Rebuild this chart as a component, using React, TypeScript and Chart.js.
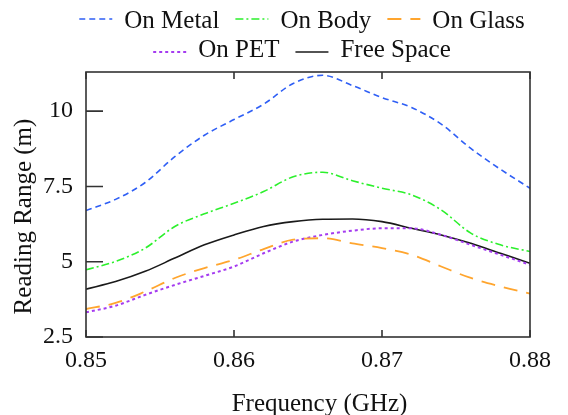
import { useEffect, useRef } from "react";
import { Chart, registerables } from "chart.js";

Chart.register(...registerables);

const FREQ = [0.85, 0.852, 0.854, 0.856, 0.858, 0.86, 0.862, 0.864, 0.866, 0.868, 0.87, 0.872, 0.874, 0.876, 0.878, 0.88];
const ON_METAL = [6.7, 7.07, 7.63, 8.49, 9.2, 9.72, 10.23, 10.92, 11.19, 10.85, 10.45, 10.12, 9.57, 8.76, 8.07, 7.44];
const ON_BODY = [4.73, 5.01, 5.45, 6.17, 6.59, 6.94, 7.33, 7.82, 7.97, 7.69, 7.44, 7.22, 6.72, 5.95, 5.56, 5.34];
const ON_GLASS = [3.43, 3.63, 4.01, 4.46, 4.79, 5.06, 5.42, 5.73, 5.78, 5.61, 5.45, 5.23, 4.84, 4.46, 4.18, 3.94];
const ON_PET = [3.32, 3.54, 3.9, 4.23, 4.53, 4.84, 5.28, 5.67, 5.89, 6.03, 6.11, 6.11, 5.89, 5.56, 5.23, 4.9];
const FREE_SPACE = [4.09, 4.34, 4.68, 5.12, 5.56, 5.89, 6.17, 6.33, 6.41, 6.42, 6.33, 6.11, 5.89, 5.61, 5.28, 4.95];

const X_TICKS = [0.85, 0.86, 0.87, 0.88];
const Y_TICKS = [2.5, 5, 7.5, 10];
const SERIES_NAMES = ["On Metal", "On Body", "On Glass", "On PET", "Free Space"];
const LEGEND_ROWS = [[0, 1, 2], [3, 4]];
const X_TITLE = "Frequency (GHz)";
const Y_TITLE = "Reading Range (m)";

const FONT = '"Liberation Serif", "Times New Roman", serif';

const legendPlugin = {
  id: "twoRowLegend",
  afterDraw(chart: any) {
    const ctx = chart.ctx;
    const { chartArea } = chart;
    ctx.save();
    ctx.font = `25px ${FONT}`;
    ctx.textBaseline = "alphabetic";
    ctx.textAlign = "left";
    const lineLen = 33;
    const textGap = 12;
    const itemGap = 16;
    const rowsBase = [20, 49];
    const rowsLine = [11, 44];
    const cx = 294;
    LEGEND_ROWS.forEach((row, r) => {
      const widths = row.map(
        (i) => lineLen + textGap + ctx.measureText(chart.data.datasets[i].label).width
      );
      const total = widths.reduce((a: number, b: number) => a + b, 0) + itemGap * (row.length - 1);
      let x = cx - total / 2;
      row.forEach((i, k) => {
        const ds = chart.data.datasets[i];
        ctx.strokeStyle = ds.borderColor;
        ctx.lineWidth = ds.borderWidth;
        ctx.setLineDash(ds.borderDash || []);
        ctx.beginPath();
        ctx.moveTo(x, rowsLine[r]);
        ctx.lineTo(x + lineLen, rowsLine[r]);
        ctx.stroke();
        ctx.setLineDash([]);
        ctx.fillStyle = "#111";
        ctx.fillText(ds.label, x + lineLen + textGap, rowsBase[r]);
        x += widths[k] + itemGap;
      });
    });

    // axis titles
    ctx.fillStyle = "#111";
    ctx.textAlign = "center";
    ctx.textBaseline = "alphabetic";
    const midX = (chartArea.left + chartArea.right) / 2;
    const midY = (chartArea.top + chartArea.bottom) / 2;
    ctx.fillText(X_TITLE, midX + 11.5, chartArea.bottom + 74);
    ctx.save();
    ctx.translate(23, midY + 12);
    ctx.rotate(-Math.PI / 2);
    ctx.fillText(Y_TITLE, 0, 0);
    ctx.restore();
    ctx.restore();
  },
};

const framePlugin = {
  id: "frame",
  afterDatasetsDraw(chart: any) {
    const { ctx, chartArea, scales } = chart;
    const { left, right, top, bottom } = chartArea;
    ctx.save();
    ctx.strokeStyle = "#333";
    ctx.lineWidth = 1.6;
    ctx.setLineDash([]);
    ctx.strokeRect(left, top, right - left, bottom - top);
    ctx.beginPath();
    Y_TICKS.forEach((v) => {
      const py = scales.y.getPixelForValue(v);
      ctx.moveTo(left, py);
      ctx.lineTo(left + 17, py);
    });
    X_TICKS.forEach((v) => {
      const px = scales.x.getPixelForValue(v);
      ctx.moveTo(px, bottom);
      ctx.lineTo(px, bottom - 7);
      ctx.moveTo(px, top);
      ctx.lineTo(px, top + 7);
    });
    ctx.stroke();
    ctx.restore();
  },
};

function toPoints(values: number[]) {
  return values.map((v, i) => ({ x: FREQ[i], y: v }));
}

export default function App() {
  const canvasRef = useRef<HTMLCanvasElement | null>(null);

  useEffect(() => {
    if (!canvasRef.current) return;
    const common = {
      fill: false,
      pointRadius: 0,
      cubicInterpolationMode: "monotone" as const,
    };
    const chart = new Chart(canvasRef.current, {
      type: "line",
      data: {
        datasets: [
          { ...common, label: SERIES_NAMES[0], data: toPoints(ON_METAL), borderColor: "#2f5ff5", borderWidth: 1.6, borderDash: [6, 4] },
          { ...common, label: SERIES_NAMES[1], data: toPoints(ON_BODY), borderColor: "#2cf02c", borderWidth: 1.6, borderDash: [8, 3, 2, 3] },
          { ...common, label: SERIES_NAMES[2], data: toPoints(ON_GLASS), borderColor: "#ffa52e", borderWidth: 1.8, borderDash: [14, 9] },
          { ...common, label: SERIES_NAMES[3], data: toPoints(ON_PET), borderColor: "#a53cf0", borderWidth: 2, borderDash: [3, 3] },
          { ...common, label: SERIES_NAMES[4], data: toPoints(FREE_SPACE), borderColor: "#1a1a1a", borderWidth: 1.6 },
        ],
      },
      options: {
        animation: false,
        responsive: true,
        maintainAspectRatio: false,
        layout: { padding: { top: 64, right: 22, left: 0, bottom: 0 } },
        plugins: {
          legend: { display: false },
          tooltip: { enabled: false },
        },
        scales: {
          x: {
            type: "linear",
            min: 0.85,
            max: 0.88,
            afterBuildTicks: (s: any) => {
              s.ticks = X_TICKS.map((v) => ({ value: v }));
            },
            afterFit: (s: any) => {
              s.height = 78;
            },
            ticks: {
              callback: (v: any) => Number(v).toFixed(2),
              font: { family: FONT, size: 24 },
              color: "#111",
              padding: 9,
              maxRotation: 0,
              autoSkip: false,
            },
            grid: { display: false, drawTicks: false },
            border: { display: false },
            title: { display: false },
          },
          y: {
            type: "linear",
            min: 2.5,
            max: 11.3,
            afterBuildTicks: (s: any) => {
              s.ticks = Y_TICKS.map((v) => ({ value: v }));
            },
            afterFit: (s: any) => {
              s.width = 78;
            },
            ticks: {
              callback: (v: any) => String(v),
              font: { family: FONT, size: 24 },
              color: "#111",
              padding: 13,
              autoSkip: false,
            },
            grid: { display: false, drawTicks: false },
            border: { display: false },
            title: { display: false },
          },
        },
      },
      plugins: [framePlugin, legendPlugin],
    });
    return () => chart.destroy();
  }, []);

  return (
    <div style={{ width: 552, height: 407, position: "relative" }}>
      <canvas ref={canvasRef} />
    </div>
  );
}
